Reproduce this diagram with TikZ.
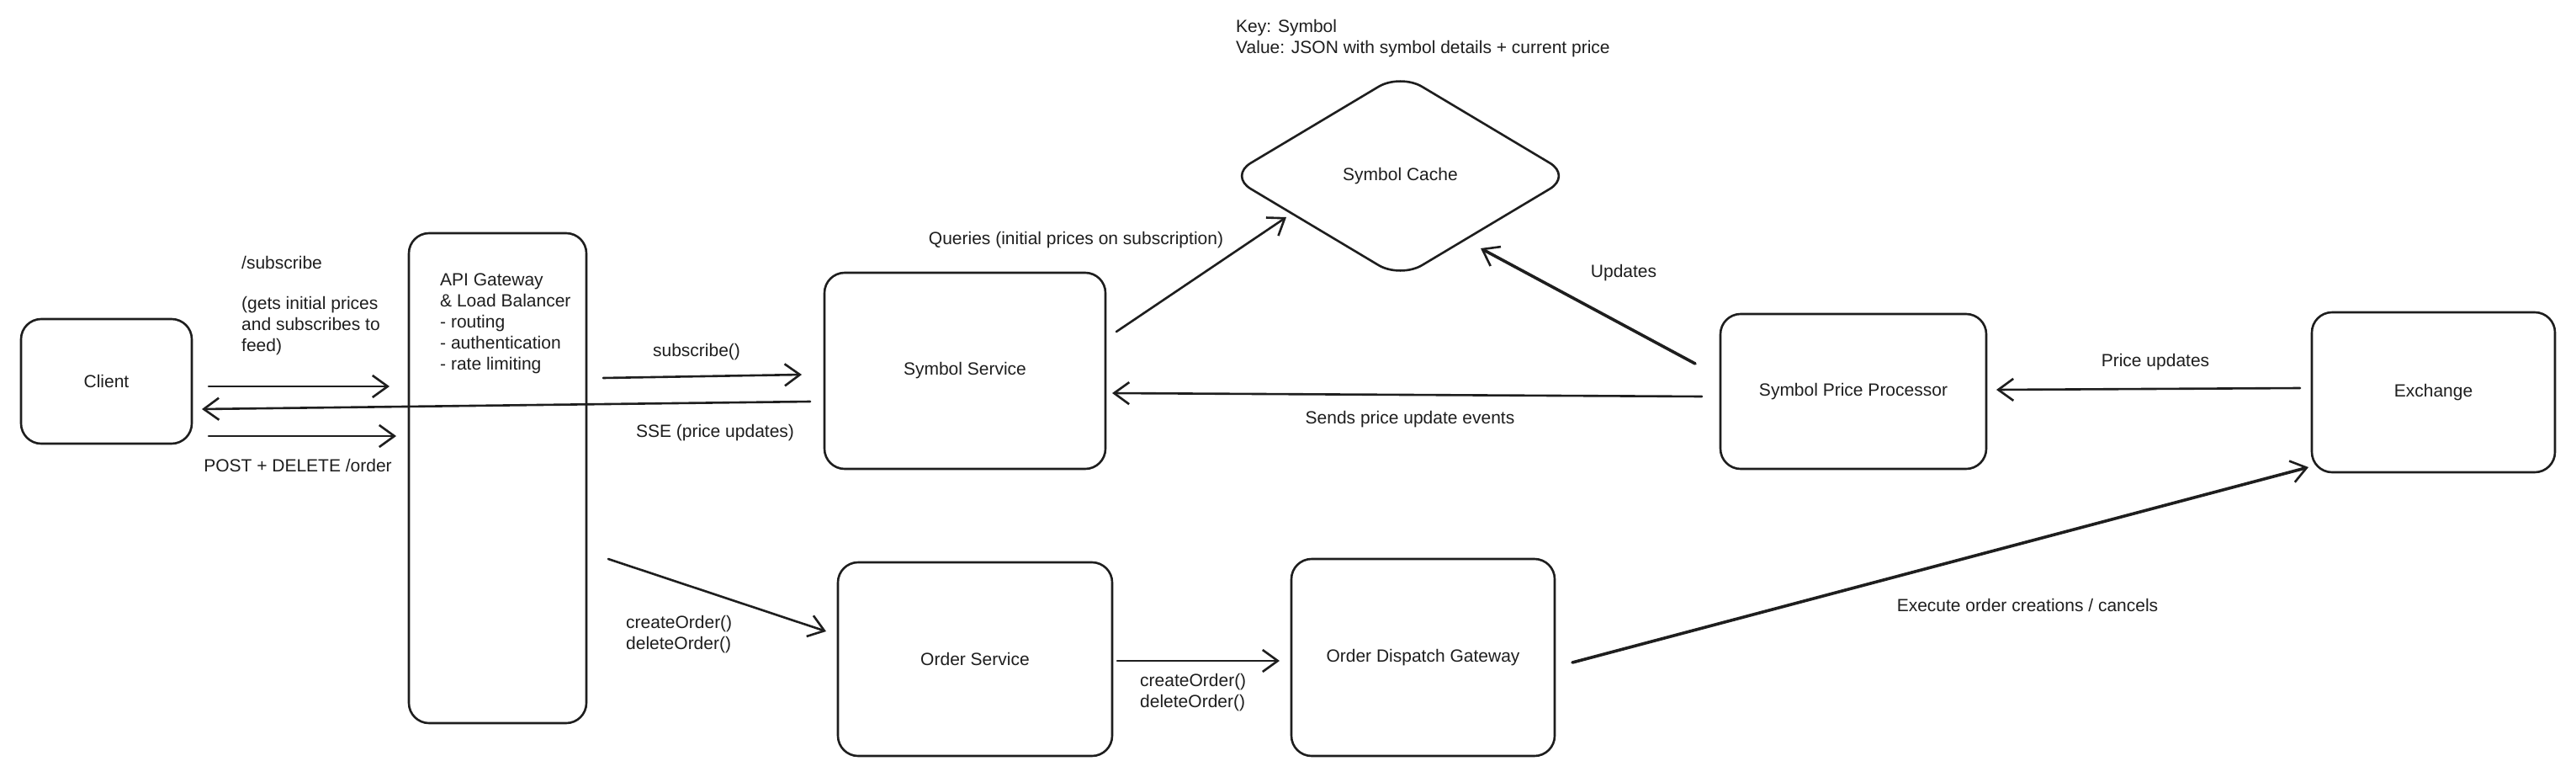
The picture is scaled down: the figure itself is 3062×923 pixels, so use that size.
\documentclass[tikz,border=0pt]{standalone}
\usepackage{fontspec}
\setmainfont{Liberation Sans}
\usetikzlibrary{arrows.meta,shapes.geometric}
\definecolor{ink}{HTML}{1E1E1E}
\newcommand\dfont{\fontsize{21}{25}\selectfont}
\begin{document}
\begin{tikzpicture}[x=1pt,y=-1pt,
  box/.style={draw=ink, line width=2.6pt, rounded corners=24pt, inner sep=0pt, font=\dfont, text=ink},
  conn/.style={draw=ink, line width=2.6pt, line cap=round, line join=round,
    -{Straight Barb[length=18pt,width=26pt,line width=2.6pt]}},
  heavy/.style={line width=3.6pt},
  lbl/.style={inner sep=0pt, font=\dfont, text=ink}]
\fill[white] (0,0) rectangle (3062,923);
\useasboundingbox (0,0) rectangle (3062,923);

% nodes
\node[box, minimum width=203pt, minimum height=148pt] (client) at (126.5,453) {Client};
\node[box, minimum width=211pt, minimum height=582pt] (api) at (591.5,568) {};
\node[box, minimum width=334pt, minimum height=233pt] (symsvc) at (1147,440.5) {Symbol Service};
\node[draw=ink, line width=2.6pt, diamond, aspect=1.7, rounded corners=30pt, inner sep=0pt,
  minimum width=408pt, minimum height=244pt, font=\dfont, text=ink] (cache) at (1664.5,209) {Symbol Cache};
\node[box, minimum width=316pt, minimum height=184pt] (spp) at (2203,465) {Symbol Price Processor};
\node[box, minimum width=289pt, minimum height=190pt] (exch) at (2892.5,466) {Exchange};
\node[box, minimum width=326pt, minimum height=230pt] (ordsvc) at (1159,783) {Order Service};
\node[box, minimum width=313pt, minimum height=234pt] (odg) at (1691.5,781) {Order Dispatch Gateway};

% texts
\node[lbl, align=left, anchor=west] (apitext) at (523,384) {API Gateway\\\& Load Balancer\\- routing\\- authentication\\- rate limiting};
\node[lbl, align=left, anchor=west] (keytext) at (1469,46) {Key: Symbol\\Value: JSON with symbol details + current price};
\node[lbl, anchor=west] (subtext) at (287,312) {/subscribe};
\node[lbl, align=left, anchor=west] (subdesc) at (287,387) {(gets initial prices\\and subscribes to\\feed)};
\node[lbl] (posttext) at (354,553) {POST + DELETE /order};
\node[lbl] (subcall) at (828,418) {subscribe()};
\node[lbl] (ssetext) at (850,514) {SSE (price updates)};
\node[lbl, align=left, anchor=west] (ordcalls1) at (744,754) {createOrder()\\deleteOrder()};
\node[lbl, align=left, anchor=west] (ordcalls2) at (1355,823) {createOrder()\\deleteOrder()};
\node[lbl] (querytext) at (1279,285) {Queries (initial prices on subscription)};
\node[lbl] (updtext) at (1930,324) {Updates};
\node[lbl] (sendtext) at (1676,498) {Sends price update events};
\node[lbl] (pricetext) at (2562,430) {Price updates};
\node[lbl] (exectext) at (2410,719) {Execute order creations / cancels};

% connectors
\draw[conn] ([shift={(121.5,6)}]client.center) -- ([shift={(-128.5,-109)}]api.center);
\draw[conn] ([shift={(-184,36.5)}]symsvc.center) -- ([shift={(113.5,33)}]client.center);
\draw[conn] ([shift={(121.5,65)}]client.center) -- ([shift={(-120.5,-50)}]api.center);
\draw[conn] ([shift={(125.5,-119)}]api.center) -- ([shift={(-194,4.5)}]symsvc.center);
\draw[conn] ([shift={(131.5,96)}]api.center) -- ([shift={(-177,-33)}]ordsvc.center);
\draw[conn] ([shift={(169,2)}]ordsvc.center) -- ([shift={(-170.5,4)}]odg.center);
\draw[conn, heavy] ([shift={(177.5,6)}]odg.center) -- ([shift={(-148.5,89)}]exch.center);
\draw[conn] ([shift={(-158.5,-5)}]exch.center) -- ([shift={(170,-2)}]spp.center);
\draw[conn] ([shift={(-180,6)}]spp.center) -- ([shift={(175,26.5)}]symsvc.center);
\draw[conn, heavy] ([shift={(-188,-33)}]spp.center) -- ([shift={(95.5,86)}]cache.center);
\draw[conn] ([shift={(180,-46.5)}]symsvc.center) -- ([shift={(-135.5,49)}]cache.center);
\end{tikzpicture}
\end{document}
